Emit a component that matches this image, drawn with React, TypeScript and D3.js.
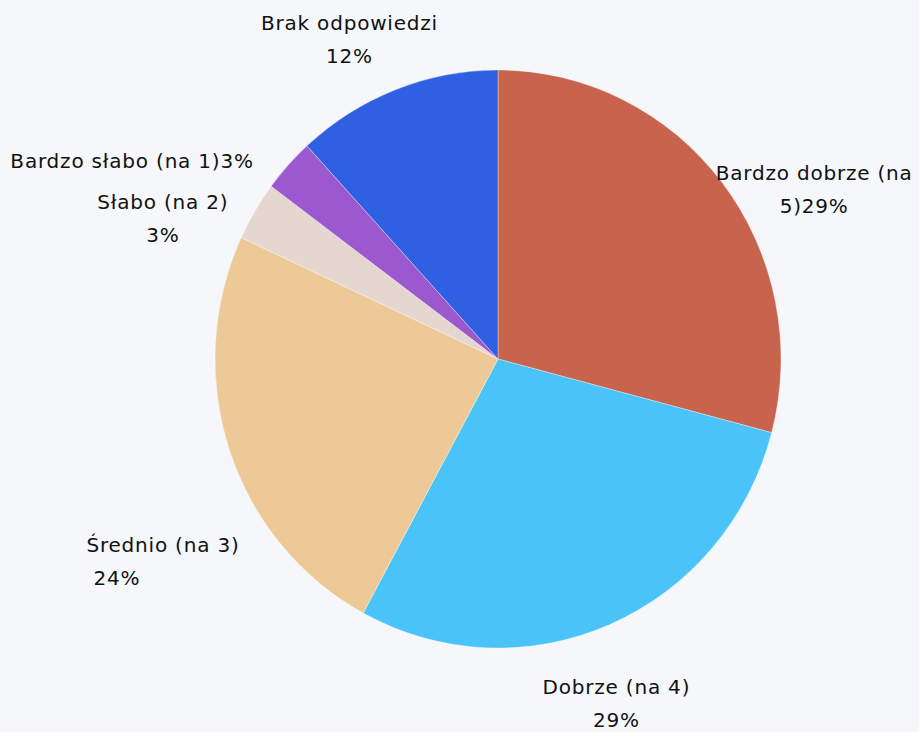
import React, { useRef, useEffect } from "react";
import * as d3 from "d3";

// survey answers, clockwise from 12 o'clock
const categories = [
  "Bardzo dobrze (na 5)",
  "Dobrze (na 4)",
  "Średnio (na 3)",
  "Słabo (na 2)",
  "Bardzo słabo (na 1)",
  "Brak odpowiedzi",
];
const shares = [29.1, 28.8, 24.0, 3.3, 3.0, 11.8];
const pctLabels = ["29%", "29%", "24%", "3%", "3%", "12%"];
const colors = ["#c8634d", "#4ac3f9", "#edc998", "#e6d6d0", "#9b58cf", "#2e60e1"];

// how each label wraps, and where it sits relative to the slice's outer point
const labelLines = [
  ["Bardzo dobrze (na", "5)" + pctLabels[0]],
  ["Dobrze (na 4)", pctLabels[1]],
  ["Średnio (na 3)", " " + pctLabels[2]],
  ["Słabo (na 2)", pctLabels[3]],
  ["Bardzo słabo (na 1)" + pctLabels[4]],
  ["Brak odpowiedzi", pctLabels[5]],
];
const labelOffsets = [
  [92, -3, "middle"],
  [6, 70, "middle"],
  [-143, 102, "start"],
  [-92, -2, "middle"],
  [-156, 3, "middle"],
  [-46, -60, "middle"],
];

const W = 919;
const H = 732;

const App = () => {
  const ref = useRef<SVGSVGElement>(null);

  useEffect(() => {
    const svg = d3.select(ref.current);
    svg.selectAll("*").remove();

    const cx = 498;
    const cy = 359;
    const ry = 289;
    const rx = 283;

    svg.append("rect").attr("width", W).attr("height", H).attr("fill", "#f5f7fa");

    const data = categories.map((c, i) => ({ name: c, value: shares[i], i }));
    const pie = d3
      .pie<any>()
      .sort(null)
      .value((d) => d.value);
    const arcs = pie(data);
    const arc = d3.arc<any>().innerRadius(0).outerRadius(ry);

    const g = svg
      .append("g")
      .attr("transform", `translate(${cx},${cy}) scale(${rx / ry},1)`);

    g.selectAll("path")
      .data(arcs)
      .enter()
      .append("path")
      .attr("d", arc)
      .attr("fill", (d) => colors[d.data.i])
      .attr("stroke", "rgba(255,255,255,0.35)")
      .attr("stroke-width", 1);

    // labels
    arcs.forEach((a) => {
      const i = a.data.i;
      const mid = (a.startAngle + a.endAngle) / 2;
      const px = cx + rx * Math.sin(mid);
      const py = cy - ry * Math.cos(mid);
      const [dx, dy, anchor] = labelOffsets[i] as [number, number, string];
      const t = svg
        .append("text")
        .attr("x", px + dx)
        .attr("y", py + dy)
        .attr("text-anchor", anchor)
        .attr("font-family", "'DejaVu Sans', Verdana, sans-serif")
        .attr("font-size", 20)
        .attr("letter-spacing", 0.8)
        .attr("fill", "#111")
        .style("white-space", "pre");
      labelLines[i].forEach((line, k) => {
        t.append("tspan")
          .attr("x", px + dx)
          .attr("dy", k === 0 ? 0 : 33)
          .text(line);
      });
    });
  }, []);

  return (
    <div style={{ position: "fixed", left: 0, top: 0 }}>
      <svg ref={ref} width={W} height={H} style={{ display: "block" }} />
    </div>
  );
};

export default App;
